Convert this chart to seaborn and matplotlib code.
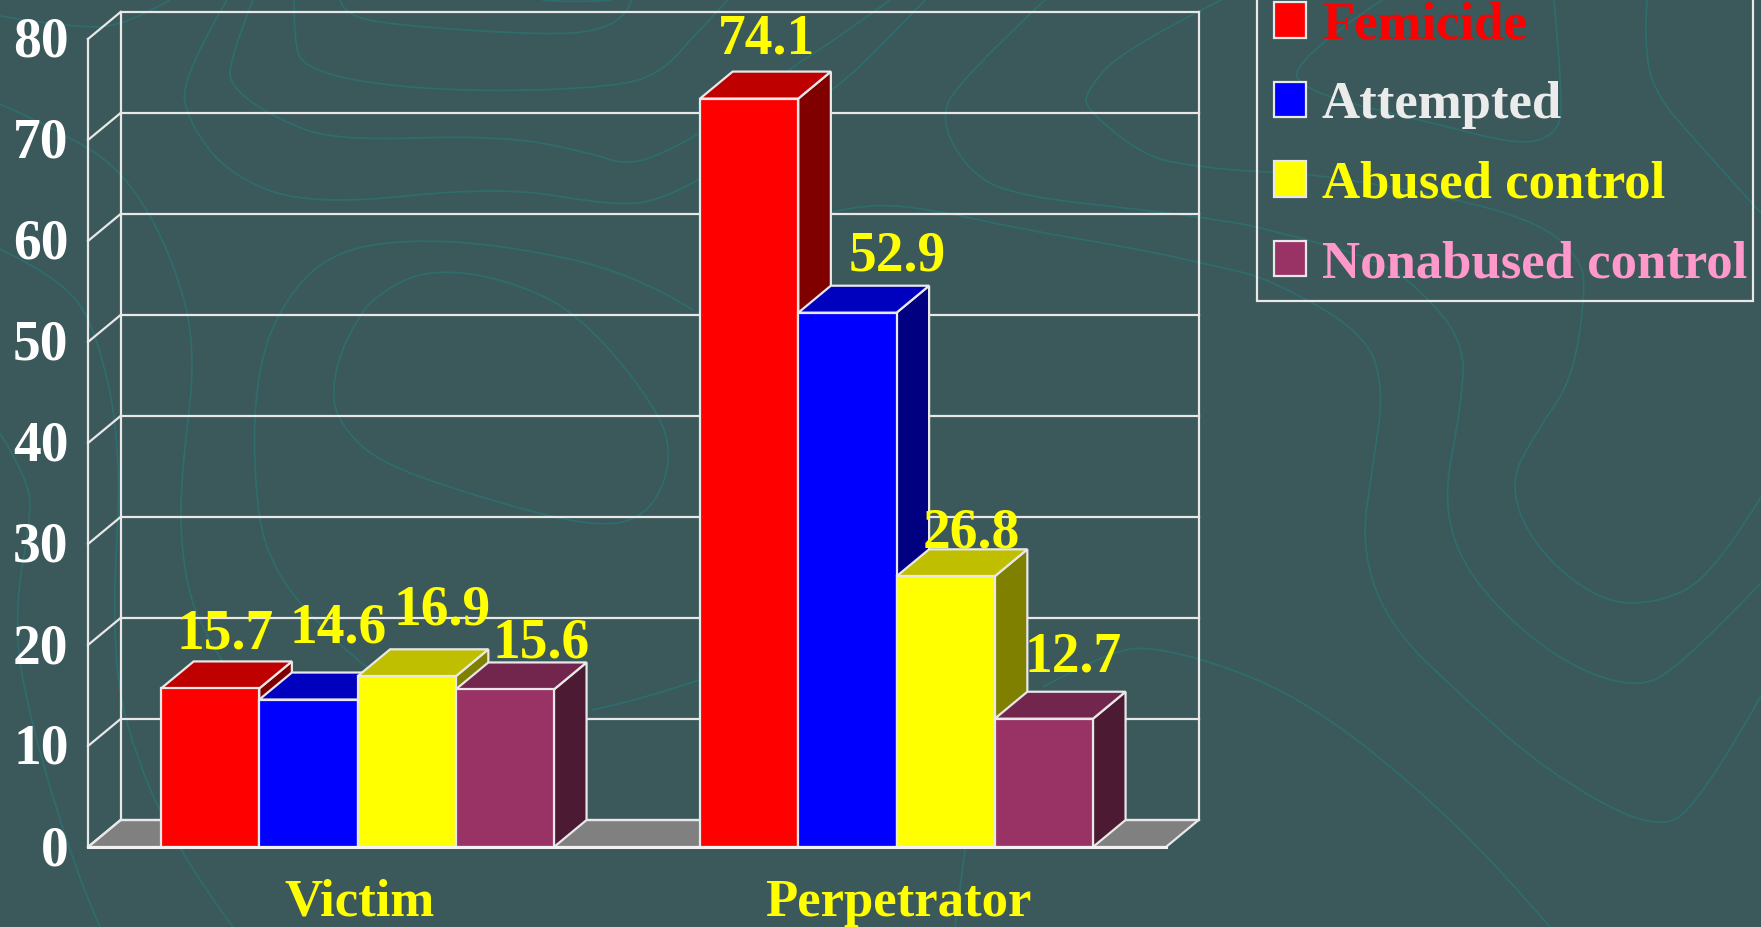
import numpy as np
import pandas as pd
import matplotlib
matplotlib.use("Agg")
import matplotlib.pyplot as plt
from matplotlib.patches import Polygon, Patch, PathPatch, Rectangle
from matplotlib.path import Path
from matplotlib.transforms import ScaledTranslation
import seaborn as sns

# ---- data
roles = ["Victim", "Perpetrator"]
groups = ["Femicide", "Attempted", "Abused control", "Nonabused control"]
victim_values = [15.7, 14.6, 16.9, 15.6]
perpetrator_values = [74.1, 52.9, 26.8, 12.7]
y_ticks = [0, 10, 20, 30, 40, 50, 60, 70, 80]

# ---- style
BG = "#3B585A"
LINE = "#E8E8E8"
CONTOUR = "#2F6C6C"
FACE = ["#FF0000", "#0000FF", "#FFFF00", "#993366"]
LEGEND_TEXT = ["#FF0000", "#EBEBEB", "#FFFF00", "#FF99CC"]
W, H = 1761, 927
LW = 1.6
FONT = "Liberation Serif"
TICK_FS, VALUE_FS, LABEL_FS, LEG_FS = 40, 40, 38, 38
# value-label offsets from the top centre of each bar, in pixels
label_dx = [15, 30, 36, 36, 17, 50, 26, 29]
label_dy = [40, 57, 52, 32, 45, 42, 29, 47]

# faint contour decoration of the slide background, in image pixels
contours = [
    [(1221,0),(1121,50),(1085,93),(1087,110),(1145,157),(1200,167),(1257,172),(1307,173),(1450,197),(1540,223),
     (1579,257),(1586,287),(1573,379),(1536,432),(1508,485),(1536,550),(1602,603),(1661,603),(1713,575),(1761,497)],
    [(1045,0),(956,83),(940,123),(973,177),(1025,197),(1145,210),(1221,220),(1272,230),(1379,260),(1421,290),
     (1465,343),(1461,408),(1442,505),(1469,579),(1550,656),(1632,690),(1680,668),(1761,583)],
    [(832,212),(870,203),(935,210),(1025,230),(1128,247),(1221,267),(1272,280),(1365,333),
     (1384,388),(1373,465),(1361,546),(1387,623),(1461,696),(1550,774),(1654,831),(1699,806),(1761,696)],
    [(592,710),(640,700),(699,680)],
    [(1043,687),(1110,650),(1160,647),(1254,676),(1328,717),(1410,782),(1495,863),(1550,927)],
    [(966,842),(955,927)],
    [(1382,0),(1288,63),(1307,93),(1433,123),(1522,146),(1558,133),(1563,100),(1554,0)],
    [(1647,0),(1644,43),(1654,93),(1701,147),(1761,213)],
    [(294,0),(294,41),(303,67),(367,84),(482,92),(615,87),(661,73),(693,37),(728,0)],
    [(340,0),(344,14),(390,25),(542,35),(601,31),(629,12),(631,0)],
    [(253,0),(227,65),(234,90),(275,118),(335,141),(500,135),(592,153),(624,165),(661,155),(720,122),(783,73),(845,33),(890,0)],
    [(227,0),(181,78),(188,122),(230,176),(312,206),(500,186),(615,206),(661,200),(720,168),(833,92),(887,40),(925,0)],
    [(0,104),(83,141),(133,184),(174,261),(197,351),(179,490),(184,580),(207,640),(235,680)],
    [(0,249),(60,278),(96,327),(122,449),(112,624),(124,727),(176,850),(233,927)],
    [(0,433),(30,482),(30,522),(16,600),(20,683),(73,867),(100,927)],
    [(693,310),(634,273),(505,245),(404,239),(331,253),(285,298),(257,367),(253,469),(266,563),(335,643),(367,667)],
    [(367,306),(395,280),(450,269),(519,284),(578,314),(643,388),(675,449),(652,514),(597,529),(468,494),
     (376,461),(340,424),(331,392),(344,339),(367,306)],
    [(0,16),(78,29),(129,24),(170,0)],
    [(542,0),(574,3),(611,0)],
]

sns.set_theme(style="white", rc={"figure.facecolor": BG, "axes.facecolor": "none"})
plt.rcParams["font.family"] = [FONT, "DejaVu Serif"]
plt.rcParams["font.weight"] = "bold"

fig = plt.figure(figsize=(W / 100, H / 100), dpi=100, facecolor=BG)

# background layer in image pixels
bg = fig.add_axes([0, 0, 1, 1], zorder=0)
bg.set_xlim(0, W); bg.set_ylim(H, 0); bg.axis("off")
for c in contours:
    p = np.array(c, float)
    verts = [p[0]]; codes = [Path.MOVETO]
    if len(p) == 2:
        verts.append(p[1]); codes.append(Path.LINETO)
    for i in range(1, len(p) - 1):
        end = (p[i] + p[i + 1]) / 2 if i < len(p) - 2 else p[i + 1]
        verts += [p[i], end]; codes += [Path.CURVE3, Path.CURVE3]
    bg.add_patch(PathPatch(Path(verts, codes), fc="none", ec=CONTOUR, lw=1.3))

# legend frame, it runs off the top of the slide
bg.add_patch(Rectangle((1256.5, -20), 1752.8 - 1256.5, 321, fc="none", ec=LINE, lw=LW))

# front plane of the 3-D chart
left, right, base, top80 = 88, 1166, 847, 39
ax = fig.add_axes([left / W, 1 - base / H, (right - left) / W, (base - top80) / H], zorder=1)

df = pd.DataFrame({
    "role": np.repeat(roles, len(groups)),
    "group": groups * len(roles),
    "pct": victim_values + perpetrator_values,
})
sns.barplot(data=df, x="role", y="pct", hue="group", hue_order=groups, palette=FACE,
            order=roles, width=0.729, gap=0, edgecolor=LINE, linewidth=LW, saturation=1,
            legend=False, ax=ax, err_kws={"linewidth": 0})
ax.set_xlim(-0.5, 1.5); ax.set_ylim(0, 80)
ax.set_xlabel(""); ax.set_ylabel("")

# depth of the 3-D box in data units
px_x = 2.0 / (right - left)
px_y = 80.0 / (base - top80)
dx, dy = 32.6 * px_x, 27 * px_y
x0, x1 = -0.5, 1.5

def seg(xs, ys, z=1, lw=LW, c=LINE):
    ax.plot(xs, ys, color=c, lw=lw, zorder=z, clip_on=False, solid_capstyle="projecting")

# floor, back wall, grid
ax.add_patch(Polygon([(x0, 0), (x1, 0), (x1 + dx, dy), (x0 + dx, dy)], closed=True, fc="#808080",
                     ec=LINE, lw=LW, clip_on=False, zorder=0.5))
for t in y_ticks:
    seg([x0 + dx, x1 + dx], [t + dy, t + dy])
    seg([x0, x0 + dx], [t, t + dy])
seg([x0 + dx, x0 + dx], [dy, 80 + dy])
seg([x1 + dx, x1 + dx], [dy, 80 + dy])
seg([x0, x0], [0, 80])

# 3-D faces on the seaborn bars, painted left to right
bars = sorted([p for p in ax.patches if isinstance(p, Rectangle) and p.get_height() > 0],
              key=lambda r: r.get_x())
for i, r in enumerate(bars):
    x, w, h = r.get_x(), r.get_width(), r.get_height()
    rgb = np.array(matplotlib.colors.to_rgb(r.get_facecolor()))
    z = 2 + i
    ax.add_patch(Polygon([(x + w, 0), (x + w + dx, dy), (x + w + dx, h + dy), (x + w, h)], closed=True,
                         fc=rgb * 0.5, ec=LINE, lw=LW, clip_on=False, zorder=z, joinstyle="miter"))
    ax.add_patch(Polygon([(x, h), (x + w, h), (x + w + dx, h + dy), (x + dx, h + dy)], closed=True,
                         fc=rgb * 0.75, ec=LINE, lw=LW, clip_on=False, zorder=z, joinstyle="miter"))
    r.set_zorder(z + 0.5); r.set_clip_on(False)
    ax.annotate(f"{h:.1f}", (x + w / 2, h), xytext=(label_dx[i], label_dy[i]), textcoords="offset pixels",
                ha="center", va="baseline", color="#FFFF00", fontsize=VALUE_FS, fontweight="bold",
                annotation_clip=False, zorder=30)

seg([x0, x1], [0, 0], z=25, lw=2.2, c="#F2F2F2")

sns.despine(ax=ax, left=True, bottom=True)
ax.set_yticks(y_ticks)
ax.tick_params(axis="y", length=8, width=LW, color=LINE, labelcolor="white", labelsize=TICK_FS, pad=6)
ax.tick_params(axis="x", length=0, labelcolor="#FFFF00", labelsize=LABEL_FS, pad=23)
for t in ax.get_xticklabels():
    t.set_fontweight("bold")
    t.set_transform(t.get_transform() + ScaledTranslation(2 / 72 * 0.72, 0, fig.dpi_scale_trans))
for t in ax.get_yticklabels():
    t.set_fontweight("bold")
    t.set_transform(t.get_transform() + ScaledTranslation(0, 2 / 72 * 0.72, fig.dpi_scale_trans))

handles = [Patch(fc=c, ec=LINE, lw=LW, label=g) for c, g in zip(FACE, groups)]
leg = fig.legend(handles=handles, loc="lower left", bbox_to_anchor=(1274 / W, 1 - 288 / H),
                 bbox_transform=fig.transFigure, frameon=False, borderaxespad=0, borderpad=0,
                 handlelength=0.606, handleheight=0.66, handletextpad=0.3, labelspacing=0.595,
                 labelcolor=LEGEND_TEXT, prop={"family": FONT, "weight": "bold", "size": LEG_FS})
leg.set_zorder(5)

fig.savefig("out.png", dpi=100, facecolor=BG)
